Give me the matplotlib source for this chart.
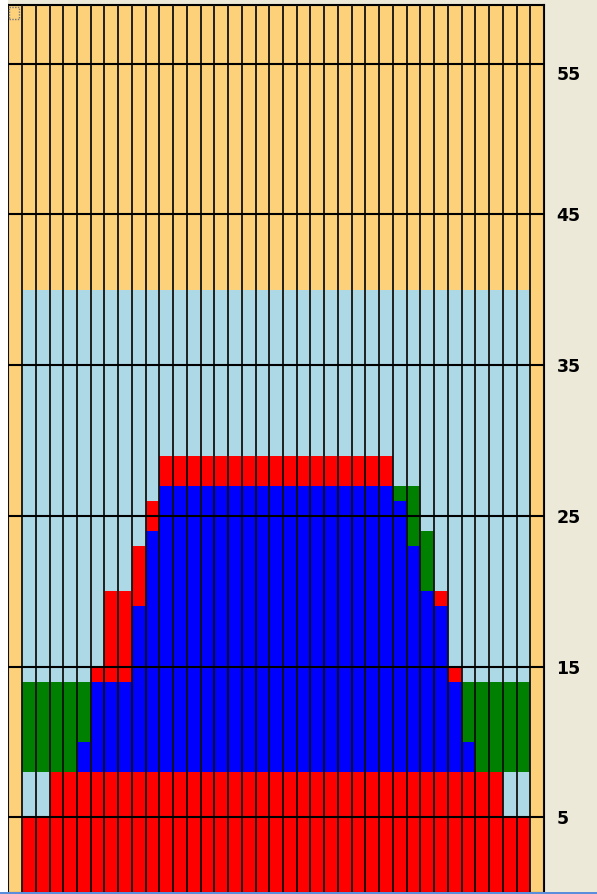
import matplotlib
matplotlib.use("Agg")
import matplotlib.pyplot as plt
import matplotlib.transforms as mtransforms
from matplotlib.patches import Rectangle

# palette
ORANGE = "#FDD07A"
LBLUE = "#ADD8E6"
RED = "#FF0000"
BLUE = "#0000FF"
GREEN = "#008000"
PANEL_BG = "#ECE9D8"

# data, one entry per column (37 columns)
cols = list(range(1, 38))
base_h = [5] * 37
# 5..8 band: light blue at the outer columns, red elsewhere
band_colors = (["lb", "lb"] + ["r"] * 33 + ["lb", "lb"])
band_h = [3] * 37
blue_h = [0, 0, 0, 0, 2, 6, 6, 6, 11, 16,
          19, 19, 19, 19, 19, 19, 19, 19, 19, 19, 19, 19, 19, 19, 19, 19, 19,
          18, 15, 12, 11, 6, 2, 0, 0, 0, 0]
cap_h = [6, 6, 6, 6, 4, 1, 6, 6, 4, 2,
         2, 2, 2, 2, 2, 2, 2, 2, 2, 2, 2, 2, 2, 2, 2, 2, 2,
         1, 4, 4, 1, 1, 4, 6, 6, 6, 6]
cap_colors = ["g", "g", "g", "g", "g", "r", "r", "r", "r", "r",
              "r", "r", "r", "r", "r", "r", "r", "r", "r", "r", "r", "r", "r", "r", "r", "r", "r",
              "g", "g", "g", "r", "r", "g", "g", "g", "g", "g"]
total = 40
yticks = [5, 15, 25, 35, 45, 55]

cmap = {"r": RED, "g": GREEN, "lb": LBLUE, "b": BLUE}

W, H = 597, 894
fig = plt.figure(figsize=(W / 100, H / 100), dpi=100)
fig.patch.set_facecolor(PANEL_BG)
fig.patches.append(Rectangle((0, 0), 8 / W, 1, transform=fig.transFigure, facecolor="white", edgecolor="none", zorder=0))
fig.patches.append(Rectangle((0, 0), 1, 2 / H, transform=fig.transFigure, facecolor="#5A8EDC", edgecolor="none", zorder=5))

ax = fig.add_axes([8.3 / W, 1.4 / H, (544 - 8.3) / W, (889 - 1.4) / H])
ax.set_facecolor(ORANGE)

bottom = [0] * 37
ax.bar(cols, base_h, width=1.0, bottom=bottom, color=RED, linewidth=0, zorder=2)
bottom = [b + h for b, h in zip(bottom, base_h)]
ax.bar(cols, band_h, width=1.0, bottom=bottom, color=[cmap[c] for c in band_colors], linewidth=0, zorder=2)
bottom = [b + h for b, h in zip(bottom, band_h)]
ax.bar(cols, blue_h, width=1.0, bottom=bottom, color=BLUE, linewidth=0, zorder=2)
bottom = [b + h for b, h in zip(bottom, blue_h)]
ax.bar(cols, cap_h, width=1.0, bottom=bottom, color=[cmap[c] for c in cap_colors], linewidth=0, zorder=2)
bottom = [b + h for b, h in zip(bottom, cap_h)]
rest_h = [total - b for b in bottom]
ax.bar(cols, rest_h, width=1.0, bottom=bottom, color=LBLUE, linewidth=0, zorder=2)

ax.set_xlim(-0.5, 38.5)
ax.set_ylim(0, 58.9)

# column separators and horizontal grid on top of the bars
for k in range(40):
    ax.axvline(k - 0.5, color="#111111", lw=1.3, zorder=4)
for y in yticks:
    ax.axhline(y, color="black", lw=1.5, zorder=5)

ax.set_xticks([])
ax.set_yticks(yticks)
ax.yaxis.tick_right()
ax.tick_params(axis="y", length=0, pad=9, labelsize=12.5)
for lbl in ax.get_yticklabels():
    lbl.set_fontweight("bold")
    lbl.set_family("DejaVu Sans")
# top label sits a bit below its grid line in the original
top_lbl = ax.get_yticklabels()[-1]
top_lbl.set_transform(top_lbl.get_transform() + mtransforms.ScaledTranslation(0, -9 / 100, fig.dpi_scale_trans))
for s in ax.spines.values():
    s.set_color("black")
    s.set_linewidth(1.5)

# little focus marker in the top-left corner
ax.add_patch(Rectangle((-0.45, 58.0), 0.75, 0.75, facecolor="none", edgecolor="#777777",
                       lw=1.0, linestyle=(0, (1, 1)), zorder=6))

fig.savefig("out.png", dpi=100, facecolor=fig.get_facecolor())
